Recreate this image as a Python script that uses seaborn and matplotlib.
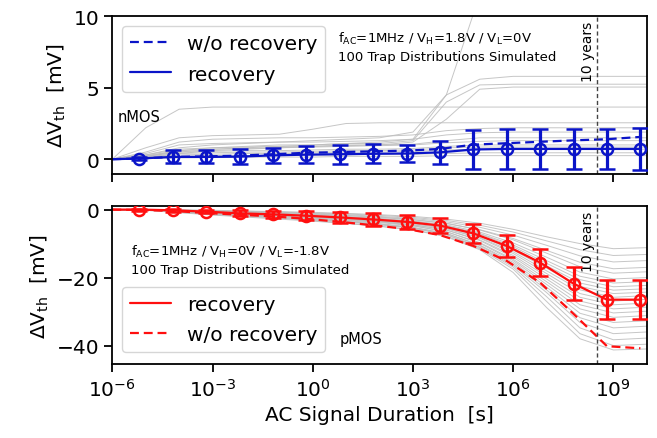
import numpy as np
import pandas as pd
import matplotlib
matplotlib.use("Agg")
import matplotlib.pyplot as plt
import seaborn as sns

# ---------------- data ----------------
# decades for grey per-distribution curves
grid_dec = [-6, -5, -4, -3, -2, -1, 0, 1, 2, 3, 4, 5, 6, 7, 8, 9, 10]
# marker (sampled) times, decades
mark_dec = [-5.19, -4.19, -3.19, -2.19, -1.19, -0.19, 0.81, 1.81, 2.81, 3.81,
            4.81, 5.81, 6.81, 7.81, 8.81, 9.81]

# nMOS
n_rec_mean = [0.05, 0.16, 0.16, 0.18, 0.27, 0.32, 0.35, 0.38, 0.40, 0.48,
              0.68, 0.72, 0.72, 0.72, 0.72, 0.72]
n_rec_err = [0.12, 0.45, 0.45, 0.5, 0.5, 0.6, 0.65, 0.65, 0.62, 0.8,
             1.38, 1.4, 1.4, 1.4, 1.4, 1.45]
n_norec = [0.05, 0.16, 0.2, 0.25, 0.35, 0.45, 0.5, 0.55, 0.6, 0.72,
           1.02, 1.12, 1.22, 1.32, 1.4, 1.56]
n_grey = [
    [0, 2.2, 3.5, 3.65, 3.65, 3.65, 3.65, 3.65, 3.65, 3.65, 3.65, 3.65, 3.65, 3.65, 3.65, 3.65, 3.65],
    [0, 0.8, 1.5, 1.65, 1.7, 1.75, 2.1, 2.5, 2.55, 2.55, 2.55, 2.55, 2.55, 2.55, 2.55, 2.55, 2.55],
    [0, 0.3, 0.8, 1.0, 1.1, 1.2, 1.3, 1.4, 1.5, 1.9, 4.5, 11.5, 14, 14, 14, 14, 14],
    [0, 0.2, 0.5, 0.7, 0.8, 0.9, 1.0, 1.1, 1.2, 1.4, 4.5, 5.6, 5.8, 5.8, 5.8, 5.8, 5.8],
    [0, 0.2, 0.6, 0.8, 0.9, 1.0, 1.0, 1.1, 1.1, 1.3, 4.0, 5.2, 5.25, 5.25, 5.25, 5.25, 5.25],
    [0, 0.1, 0.4, 0.6, 0.7, 0.8, 0.9, 1.0, 1.0, 1.2, 2.8, 4.9, 5.05, 5.05, 5.05, 5.05, 5.05],
    [0, 0.5, 1.2, 1.4, 1.45, 1.5, 1.5, 1.55, 1.6, 1.7, 2.0, 2.15, 2.2, 2.2, 2.2, 2.2, 2.2],
    [0, 0.4, 1.0, 1.1, 1.15, 1.2, 1.2, 1.25, 1.3, 1.4, 1.7, 1.85, 1.9, 1.9, 1.9, 1.9, 1.9],
    [0, 0.3, 0.7, 0.8, 0.85, 0.9, 0.9, 0.95, 1.0, 1.05, 1.3, 1.5, 1.5, 1.5, 1.5, 1.5, 1.5],
    [0, 0.2, 0.5, 0.55, 0.6, 0.6, 0.65, 0.7, 0.7, 0.75, 0.9, 1.0, 1.0, 1.0, 1.0, 1.0, 1.0],
    [0, 0.1, 0.3, 0.35, 0.4, 0.4, 0.45, 0.5, 0.5, 0.55, 0.65, 0.7, 0.7, 0.7, 0.7, 0.7, 0.7],
    [0, 0.1, 0.2, 0.25, 0.25, 0.3, 0.3, 0.3, 0.35, 0.35, 0.4, 0.45, 0.45, 0.45, 0.45, 0.45, 0.45],
    [0, 0.05, 0.1, 0.12, 0.15, 0.15, 0.15, 0.2, 0.2, 0.2, 0.25, 0.25, 0.25, 0.25, 0.25, 0.25, 0.25],
    [0, 0.25, 0.6, 0.7, 0.75, 0.8, 0.85, 0.9, 0.95, 1.0, 1.15, 1.25, 1.3, 1.3, 1.3, 1.3, 1.3],
    [0, 0.15, 0.4, 0.45, 0.5, 0.5, 0.55, 0.6, 0.6, 0.65, 0.8, 0.85, 0.85, 0.85, 0.85, 0.85, 0.85],
]

# pMOS
p_rec_mean = [0, -0.2, -0.6, -1.1, -1.4, -1.8, -2.3, -2.9, -3.6, -4.7,
              -7.0, -10.7, -15.6, -21.8, -26.5, -26.5]
p_rec_err = [0.3, 0.4, 0.5, 0.9, 1.1, 1.4, 1.7, 2.0, 2.1, 2.3,
             2.7, 3.3, 4.0, 4.9, 5.7, 5.8]
p_norec = [-0.1, -0.4, -1.0, -1.5, -2.0, -2.7, -3.6, -4.6, -5.7, -7.5,
           -10.7, -15.1, -21.5, -30.7, -40.2, -40.8]
p_grey = [
    [0, 0, -0.1, -0.2, -0.4, -0.6, -0.8, -1.1, -1.5, -2.0, -2.8, -4.0, -5.8, -8.0, -10.0, -11.5, -11.2],
    [0, 0, -0.1, -0.3, -0.5, -0.7, -1.0, -1.3, -1.7, -2.3, -3.2, -4.6, -6.6, -9.2, -11.8, -13.5, -13.2],
    [0, -0.05, -0.2, -0.4, -0.6, -0.8, -1.1, -1.5, -2.0, -2.6, -3.6, -5.2, -7.5, -10.5, -13.6, -15.4, -15.0],
    [0, -0.05, -0.3, -0.6, -0.9, -1.1, -1.4, -1.8, -2.3, -3.0, -4.1, -5.9, -8.5, -12.0, -15.5, -17.4, -17.0],
    [0, -0.1, -0.2, -0.5, -0.8, -1.0, -1.3, -1.7, -2.2, -2.9, -4.0, -6.0, -8.9, -12.8, -16.8, -18.7, -18.3],
    [0, -0.05, -0.3, -0.7, -1.1, -1.4, -1.7, -2.1, -2.6, -3.3, -4.5, -6.6, -9.8, -14.0, -18.4, -20.4, -20.0],
    [0, -0.1, -0.4, -0.9, -1.3, -1.6, -2.0, -2.4, -2.9, -3.6, -4.8, -7.0, -10.4, -15.0, -19.6, -21.6, -21.2],
    [0, 0, -0.2, -0.5, -0.9, -1.2, -1.6, -2.1, -2.7, -3.5, -4.8, -7.2, -10.9, -15.8, -20.6, -22.7, -22.3],
    [0, -0.1, -0.3, -0.7, -1.2, -1.5, -1.9, -2.4, -3.0, -3.8, -5.1, -7.6, -11.4, -16.5, -21.6, -23.7, -23.3],
    [0, -0.05, -0.2, -0.6, -1.0, -1.3, -1.7, -2.2, -2.9, -3.8, -5.2, -7.8, -11.9, -17.2, -22.6, -24.7, -24.3],
    [0, -0.1, -0.5, -1.0, -1.5, -1.8, -2.2, -2.7, -3.3, -4.1, -5.5, -8.2, -12.4, -18.0, -23.6, -25.8, -25.3],
    [0, -0.05, -0.3, -0.7, -1.2, -1.5, -1.9, -2.5, -3.2, -4.1, -5.6, -8.4, -12.9, -18.8, -24.7, -26.9, -26.4],
    [0, -0.1, -0.4, -0.9, -1.4, -1.8, -2.3, -2.9, -3.6, -4.5, -6.0, -8.9, -13.5, -19.6, -25.8, -28.0, -27.5],
    [0, -0.05, -0.3, -0.8, -1.2, -1.6, -2.1, -2.7, -3.4, -4.4, -6.0, -9.1, -14.0, -20.4, -26.9, -29.2, -28.7],
    [0, -0.1, -0.5, -1.1, -1.6, -2.0, -2.5, -3.1, -3.8, -4.8, -6.5, -9.7, -14.6, -21.2, -28.0, -30.4, -29.9],
    [0, -0.05, -0.3, -0.7, -1.2, -1.6, -2.1, -2.8, -3.6, -4.7, -6.5, -9.9, -15.0, -22.0, -29.2, -31.7, -31.2],
    [0, -0.1, -0.6, -1.2, -1.8, -2.3, -2.9, -3.5, -4.3, -5.3, -7.0, -10.4, -15.5, -22.8, -30.5, -33.2, -32.7],
    [0, -0.1, -0.4, -0.9, -1.4, -1.9, -2.5, -3.2, -4.1, -5.2, -7.0, -10.6, -16.0, -23.6, -31.8, -34.8, -34.3],
    [0, -0.2, -0.8, -1.5, -2.0, -2.5, -3.1, -3.7, -4.5, -5.5, -7.3, -11.0, -16.4, -24.4, -33.2, -36.5, -36.0],
    [0, -0.1, -0.5, -1.1, -1.6, -2.1, -2.8, -3.5, -4.3, -5.4, -7.4, -11.2, -16.9, -25.6, -34.8, -38.3, -37.8],
    [0, -0.2, -0.9, -1.6, -2.2, -2.8, -3.4, -4.1, -4.9, -5.9, -7.8, -11.5, -17.5, -27.0, -36.5, -40.0, -39.6],
    [0, -0.1, -0.6, -1.3, -1.8, -2.5, -3.2, -4.0, -4.9, -6.0, -8.0, -11.8, -18.5, -28.8, -38.0, -41.3, -41.0],
]

ten_years_s = 3.156e8
x_ticks = [1e-6, 1e-3, 1e0, 1e3, 1e6, 1e9]

# ---------------- figure ----------------
sns.set_style("ticks", {"axes.edgecolor": "black", "text.color": "black",
                        "xtick.color": "black", "ytick.color": "black",
                        "axes.labelcolor": "black"})
plt.rcParams['font.family'] = ['DejaVu Sans']
plt.rcParams['mathtext.default'] = 'regular'

fig = plt.figure(figsize=(6.57, 4.39), dpi=100)
ax1 = fig.add_axes([0.171, 0.6025, 0.8134, 0.358])
ax2 = fig.add_axes([0.171, 0.168, 0.8134, 0.360])

t_grid = 10.0 ** np.array(grid_dec)
t_mark = 10.0 ** np.array(mark_dec)
t_line = np.concatenate([[1e-6], t_mark])


def grey_df(curves):
    rows = []
    for i, c in enumerate(curves):
        for t, v in zip(t_grid, c):
            rows.append((i, t, v))
    return pd.DataFrame(rows, columns=["dist", "t", "v"])


def panel(ax, grey, rec_mean, rec_err, norec, color):
    sns.lineplot(data=grey_df(grey), x="t", y="v", units="dist", estimator=None,
                 color="#bcbcbc", lw=0.7, alpha=0.85, ax=ax, legend=False)
    sns.lineplot(x=t_line, y=np.concatenate([[0], norec]), color=color, lw=1.6,
                 linestyle=(0, (4, 2.2)), ax=ax, label="w/o recovery")
    sns.lineplot(x=t_line, y=np.concatenate([[0], rec_mean]), color=color, lw=1.6,
                 ax=ax, label="recovery")
    ax.errorbar(t_mark, rec_mean, yerr=rec_err, fmt="o", mfc="none", mec=color,
                mew=1.8, ms=8, ecolor=color, elinewidth=2.3, capsize=6, capthick=2.3,
                color=color, zorder=5)
    ax.axvline(ten_years_s, color="#444444", lw=1, ls=(0, (3, 2)))
    ax.set_xscale("log")
    ax.set_xlim(1e-6, 1e10)
    ax.set_xticks(x_ticks)
    ax.xaxis.set_minor_locator(matplotlib.ticker.NullLocator())
    ax.tick_params(labelsize=14.5, width=1.3, length=6)
    for s in ax.spines.values():
        s.set_linewidth(1.3)
    ax.set_ylabel(r"ΔV$_{\mathrm{th}}$  [mV]", fontsize=14.5)
    ax.set_xlabel("")


blue = "#0a14c8"
red = "#ff0f0f"
panel(ax1, n_grey, n_rec_mean, n_rec_err, n_norec, blue)
panel(ax2, p_grey, p_rec_mean, p_rec_err, p_norec, red)

ax1.set_ylim(-1, 10)
ax1.set_yticks([0, 5, 10])
ax1.set_xticklabels([])
ax2.set_ylim(-45.5, 1)
ax2.set_yticks([-40, -20, 0])
ax2.set_xticklabels([r"10$^{-6}$", r"10$^{-3}$", r"10$^{0}$", r"10$^{3}$", r"10$^{6}$", r"10$^{9}$"])
ax2.set_xlabel("AC Signal Duration  [s]", fontsize=14.5)

h, l = ax1.get_legend_handles_labels()
ax1.legend(h, l, loc="upper left", fontsize=14.5, labelspacing=0.55)
h, l = ax2.get_legend_handles_labels()
ax2.legend([h[1], h[0]], [l[1], l[0]], loc="lower left", fontsize=14.5,
           labelspacing=0.55, bbox_to_anchor=(0, 0.015))

ax1.text(0.423, 0.81, "f$_{AC}$=1MHz / V$_{H}$=1.8V / V$_{L}$=0V\n100 Trap Distributions Simulated",
         transform=ax1.transAxes, fontsize=9.5, va="center", ha="left", linespacing=1.4)
ax1.text(0.01, 0.36, "nMOS", transform=ax1.transAxes, fontsize=10.5, va="center")
ax2.text(0.034, 0.665, "f$_{AC}$=1MHz / V$_{H}$=0V / V$_{L}$=-1.8V\n100 Trap Distributions Simulated",
         transform=ax2.transAxes, fontsize=9.5, va="center", ha="left", linespacing=1.4)
ax2.text(0.425, 0.16, "pMOS", transform=ax2.transAxes, fontsize=10.5, va="center")
for ax in (ax1, ax2):
    ax.text(ten_years_s / 1.1, 0.97, "10 years", transform=ax.get_xaxis_transform(),
            rotation=90, fontsize=10, ha="right", va="top")

fig.savefig("out.png", dpi=100)
